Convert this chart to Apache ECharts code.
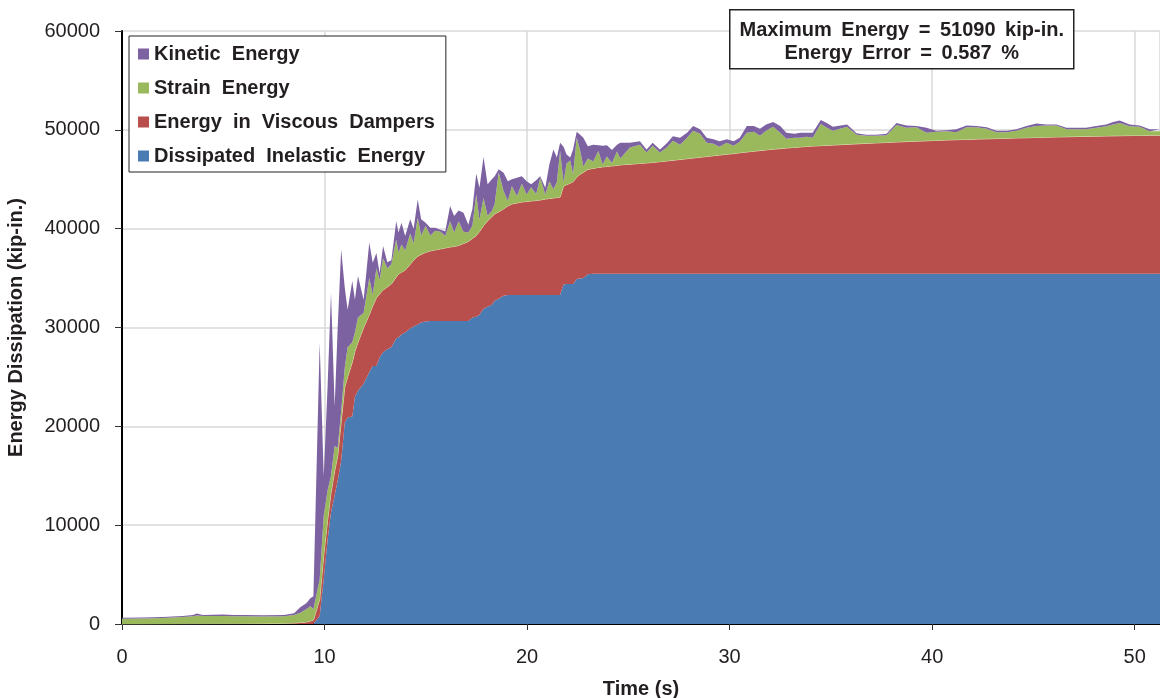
<!DOCTYPE html>
<html>
<head>
<meta charset="utf-8">
<script src="https://cdn.jsdelivr.net/npm/echarts@6/dist/echarts.min.js"></script>
<style>
  html, body { margin: 0; padding: 0; background: #fff; }
  #chart { width: 1160px; height: 698px; }
</style>
</head>
<body>
<div id="chart"></div>
<script>
// Energy balance of the structure over the record (kip-in.), sampled in time (s)
const time = [
  0, 1, 2, 3, 3.5, 3.7, 4, 5, 5.5, 6, 7, 8, 8.5, 8.8, 9.1, 9.3, 9.45,
  9.76, 9.96, 10.15, 10.32, 10.5, 10.65, 10.82, 11.0, 11.14, 11.37, 11.5, 11.65, 11.93,
  12.21, 12.38, 12.56, 12.72, 12.89, 13.1, 13.3, 13.54, 13.65, 13.8, 13.98,
  14.23, 14.4, 14.6, 14.77, 14.99, 15.22, 15.47, 15.72, 15.96, 16.2, 16.4, 16.62, 16.86, 17.1,
  17.3, 17.49, 17.65, 17.85, 18.05, 18.26, 18.4, 18.6, 18.84, 19.05,
  19.25, 19.5, 19.74, 19.98, 20.2, 20.45, 20.65, 20.9, 21.1, 21.3, 21.47, 21.63,
  21.8, 21.95, 22.13, 22.27, 22.45, 22.62, 22.78, 23.0, 23.27, 23.52, 23.73, 23.94, 24.19, 24.44, 24.6,
  25.08, 25.57, 25.9, 26.2, 26.56, 26.9, 27.2, 27.55, 27.9, 28.2, 28.54, 28.87, 29.2, 29.5, 29.86,
  30.2, 30.5, 30.85, 31.2, 31.5, 31.8, 32.15, 32.5, 32.8, 33.2, 33.5, 33.8, 34.1, 34.5, 34.8, 35.1,
  35.8, 36.27, 36.75, 37.25, 37.75, 38.24, 38.73, 39.23, 39.72, 40.2, 40.7, 41.2, 41.7,
  42.19, 42.7, 43.18, 43.7, 44.16, 44.66, 45.15, 45.64, 46.14, 46.63, 47.12, 47.6,
  48.1, 48.6, 48.93, 49.26, 49.75, 50.24, 50.74, 51.25
];

const inelastic = [
  0, 0, 0, 0, 0, 0, 0, 0, 0, 0, 0, 0, 0, 0, 0, 0, 0,
  800, 4500, 8500, 11300, 13000, 14500, 16500, 20400, 20900, 21000, 23000, 23600, 24300,
  25500, 26100, 26100, 27000, 27500, 27800, 28000, 28900, 29000, 29300, 29500,
  29900, 30100, 30300, 30500, 30600, 30650, 30650, 30650, 30650, 30650, 30650, 30650, 30650, 30650,
  31000, 31100, 31300, 31900, 32100, 32300, 32700, 32900, 33200, 33300,
  33300, 33300, 33300, 33300, 33300, 33300, 33300, 33300, 33300, 33300, 33300, 33300,
  34350, 34400, 34400, 34400, 34900, 34950, 35000, 35400, 35450, 35450, 35450, 35450, 35450, 35450, 35450,
  35450, 35450, 35450, 35450, 35450, 35450, 35450, 35450, 35450, 35450, 35450, 35450, 35450, 35450, 35450,
  35450, 35450, 35450, 35450, 35450, 35450, 35450, 35450, 35450, 35450, 35450, 35450, 35450, 35450, 35450, 35450,
  35450, 35450, 35450, 35450, 35450, 35450, 35450, 35450, 35450, 35450, 35450, 35450, 35450,
  35450, 35450, 35450, 35450, 35450, 35450, 35450, 35450, 35450, 35450, 35450, 35450,
  35450, 35450, 35450, 35450, 35450, 35450, 35450, 35450
];

const viscous = [
  0, 0, 10, 20, 20, 20, 25, 30, 30, 35, 40, 60, 100, 150, 200, 300, 400,
  1700, 2500, 2000, 2000, 2500, 2500, 4000, 3600, 4100, 5500, 4600, 4900, 5700,
  5800, 6100, 6900, 6400, 6300, 6300, 6400, 6200, 6400, 6300, 6300,
  6500, 6700, 6900, 6900, 7000, 7100, 7200, 7300, 7400, 7500, 7550, 7650, 7850, 8050,
  8000, 8200, 8400, 8400, 8700, 8900, 8800, 8800, 8800, 9000,
  9200, 9300, 9400, 9450, 9500, 9550, 9600, 9700, 9750, 9800, 9850, 9900,
  9950, 10050, 10200, 10350, 10300, 10550, 10700, 10600, 10650, 10750, 10800, 10850, 10900, 10950, 11000,
  11070, 11150, 11200, 11250, 11330, 11400, 11470, 11550, 11630, 11700, 11780, 11850, 11930, 12000, 12080,
  12150, 12230, 12310, 12390, 12450, 12520, 12590, 12650, 12710, 12770, 12820, 12870, 12910, 12950, 12980, 13010,
  13080, 13130, 13180, 13230, 13270, 13320, 13360, 13400, 13440, 13480, 13520, 13550, 13580,
  13610, 13640, 13670, 13700, 13730, 13750, 13780, 13810, 13830, 13850, 13870, 13890,
  13910, 13930, 13940, 13950, 13970, 13980, 14000, 14010
];

const strain = [
  530, 550, 590, 680, 760, 840, 775, 770, 750, 745, 720, 720, 800, 1000, 1300, 1500, 1100,
  2000, 4000, 3000, 1700, 2500, 800, 1000, 2000, 3000, 2000, 1900, 2500, 1500,
  3700, 1100, 3000, 1400, 3200, 1900, 2000, 3800, 2200, 2800, 2000,
  3100, 1700, 3900, 1900, 2700, 1550, 1950, 1750, 1200, 2600, 1400, 2450, 1200, 900,
  1300, 4150, 1200, 2800, 500, 600, 1000, 4000, 1800, 500,
  1800, 700, 1850, 700, 1400, 650, 2250, 450, 1750, 900, 1550, 4650,
  400, 2150, 2300, 750, 4000, 2400, 600, 1100, 700, 1650, 250, 1000, 300, 1400, 650,
  1680, 1900, 1050, 1700, 920, 1350, 1980, 1500, 2120, 2750, 2370, 1400, 1220, 850, 1170,
  800, 1120, 1940, 1960, 1500, 1930, 2260, 1600, 940, 980, 930, 980, 840, 2200, 1770, 1440,
  1770, 920, 770, 720, 730, 1730, 1390, 1400, 810, 870, 880, 750, 1220,
  1190, 1010, 630, 600, 720, 1000, 1170, 1190, 1170, 750, 730, 710,
  840, 970, 1160, 1300, 930, 870, 400, 390
];

const kinetic = [
  100, 100, 100, 100, 120, 200, 100, 150, 120, 120, 120, 120, 200, 550, 600, 800, 1300,
  23950, 3950, 10500, 18500, 4000, 12200, 16400, 8000, 3800, 6200, 3300, 4200, 1300,
  3600, 3250, 1550, 700, 1250, 600, 400, 1850, 2000, 2200, 1450,
  1450, 1500, 1850, 1650, 300, 800, 300, 200, 500, 1550, 1670, 1100, 1900, 800,
  1700, 2100, 3250, 4150, 3200, 3200, 2800, 300, 1850, 2000,
  700, 1850, 750, 1350, 300, 1400, 150, 700, 1700, 4000, 2500, 850,
  3600, 900, 300, 2500, 600, 1600, 2900, 1250, 1700, 600, 1900, 1150, 1300, 700, 1600,
  500, 350, 300, 300, 300, 450, 450, 700, 500, 500, 450, 500, 450, 550, 350,
  450, 400, 700, 600, 700, 650, 500, 700, 600, 400, 500, 400, 500, 400, 500, 400,
  250, 150, 100, 100, 150, 200, 250, 150, 500, 100, 100, 300, 200,
  150, 150, 150, 150, 150, 200, 250, 100, 100, 150, 150, 150,
  200, 200, 250, 250, 200, 150, 200, 200
];

const seriesNames = ['Dissipated Inelastic Energy', 'Energy in Viscous Dampers', 'Strain Energy', 'Kinetic Energy'];
const legendOrder = ['Kinetic Energy', 'Strain Energy', 'Energy in Viscous Dampers', 'Dissipated Inelastic Energy'];
const seriesColors = ['#4a7bb3', '#b84f4c', '#9ab95c', '#7d62a1'];
const noteLines = ['Maximum Energy = 51090 kip-in.', 'Energy Error = 0.587 %'];

const FONT = '"Liberation Sans", Arial, Helvetica, sans-serif';
const INK = '#231f20';

// Word gaps in the box texts are a little wider than a plain space
const widen = (s, gap) => s.split(' ').join(gap);

// Rows are [energy, time]; the energy column comes first so the stack runs on the y values
function rows(values) {
  return time.map((t, i) => [values[i], t]);
}

const valueSets = [inelastic, viscous, strain, kinetic];

const series = valueSets.map((vals, k) => ({
  name: seriesNames[k],
  type: 'line',
  stack: 'energy',
  data: rows(vals),
  encode: { x: 1, y: 0 },
  symbol: 'none',
  smooth: false,
  color: seriesColors[k],
  lineStyle: k === 1
    ? { width: 1, color: '#e4e0b8', opacity: 1 }
    : { width: 0, opacity: 0 },
  areaStyle: { color: seriesColors[k], opacity: 1 },
  emphasis: { disabled: true },
  z: 2 + k
}));

const chart = echarts.init(document.getElementById('chart'), null, { renderer: 'canvas' });

chart.setOption({
  animation: false,
  backgroundColor: '#ffffff',
  textStyle: { fontFamily: FONT },
  grid: { left: 122, right: 0, top: 31, bottom: 74, containLabel: false, outerBoundsMode: 'none' },
  legend: {
    data: legendOrder,
    orient: 'vertical',
    left: 129,
    top: 36,
    icon: 'rect',
    itemWidth: 11,
    itemHeight: 11,
    itemGap: 14,
    padding: [8, 11, 6, 9],
    backgroundColor: '#ffffff',
    borderColor: '#222222',
    borderWidth: 1,
    selectedMode: false,
    formatter: name => widen(name, '  '),
    textStyle: { fontFamily: FONT, fontWeight: 'bold', fontSize: 20, color: INK },
    z: 20
  },
  graphic: [{
    type: 'group',
    left: 729,
    top: 9,
    z: 100,
    children: [
      {
        type: 'rect',
        z: 100,
        shape: { x: 0, y: 0, width: 344, height: 59 },
        style: { fill: '#ffffff', stroke: '#222222', lineWidth: 1.5 }
      },
      {
        type: 'text',
        z: 101,
        x: 172, y: 20.5,
        style: {
          text: widen(noteLines[0], ' \u2009'), align: 'center', verticalAlign: 'middle',
          font: 'bold 20px ' + FONT, fill: INK
        }
      },
      {
        type: 'text',
        z: 101,
        x: 172, y: 44,
        style: {
          text: widen(noteLines[1], ' \u2009'), align: 'center', verticalAlign: 'middle',
          font: 'bold 20px ' + FONT, fill: INK
        }
      }
    ]
  }],
  xAxis: {
    type: 'value',
    min: 0,
    max: 51.25,
    interval: 10,
    name: 'Time (s)',
    nameLocation: 'middle',
    nameGap: 55,
    nameTextStyle: { fontFamily: FONT, fontWeight: 'bold', fontSize: 20, color: INK },
    axisLine: { show: true, onZero: false, lineStyle: { color: '#000', width: 2 } },
    axisTick: { show: true, length: 6, lineStyle: { color: '#333', width: 1 } },
    axisLabel: {
      fontFamily: FONT, fontSize: 20, color: INK, margin: 23,
      showMaxLabel: false,
      formatter: v => (v % 10 === 0 ? String(v) : '')
    },
    splitLine: { show: true, lineStyle: { color: '#d9d9d9', width: 1.5 } }
  },
  yAxis: {
    type: 'value',
    min: 0,
    max: 60000,
    interval: 10000,
    name: 'Energy Dissipation (kip-in.)',
    nameLocation: 'middle',
    nameGap: 96,
    nameRotate: 90,
    nameTextStyle: { fontFamily: FONT, fontWeight: 'bold', fontSize: 20, color: INK },
    axisLine: { show: true, lineStyle: { color: '#000', width: 2 } },
    axisTick: { show: true, length: 7, lineStyle: { color: '#333', width: 1 } },
    axisLabel: { fontFamily: FONT, fontSize: 20, color: INK, margin: 22, formatter: v => String(v) },
    splitLine: { show: true, lineStyle: { color: '#d9d9d9', width: 1.5 } }
  },
  series: series
});
</script>
</body>
</html>
